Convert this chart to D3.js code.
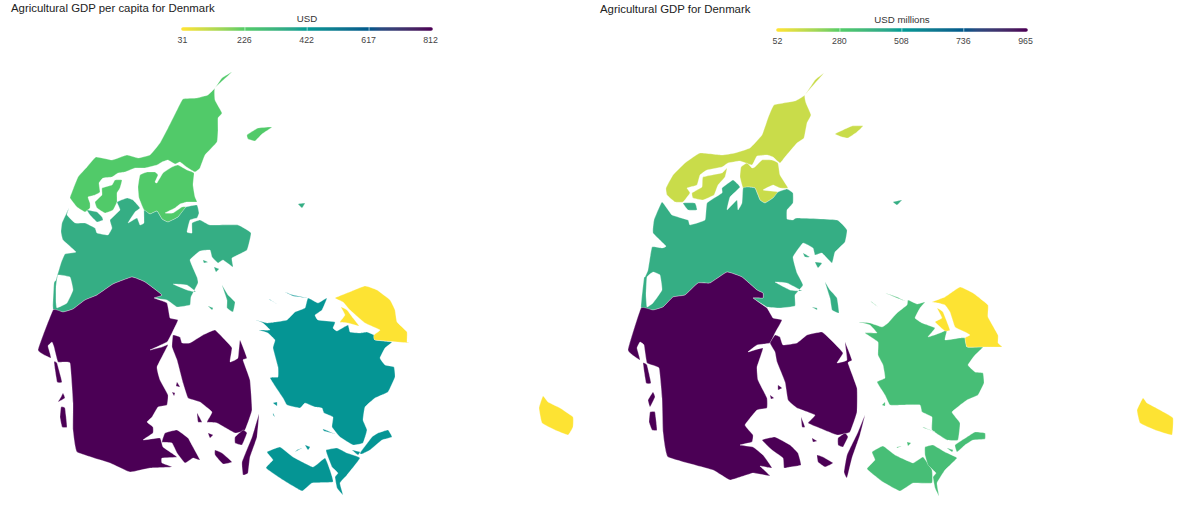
<!DOCTYPE html>
<html>
<head>
<meta charset="utf-8">
<script src="https://cdn.jsdelivr.net/npm/d3@7"></script>
<style>
html,body{margin:0;padding:0;background:#fff;}
svg{display:block;}
text{font-family:"Liberation Sans",Arial,sans-serif;}
</style>
</head>
<body>
<svg id="chart" width="1200" height="509"></svg>
<script>
const regions = ["Nordjylland","Midtjylland","Syddanmark","Sjaelland","Hovedstaden"];
const perCapitaValues = [234, 343, 812, 437, 31];
const totalValues = [134, 417, 965, 345, 52];
const perCapitaTicks = [31, 226, 422, 617, 812];
const totalTicks = [52, 280, 508, 736, 965];
const paletteStops = ["#FDE333", "#53CC67", "#009B95", "#00588B", "#4B0055"];

// Region outlines, in map units, one set per panel (each polygon: outer ring, then any holes).
const outlinesPerCapita = {
 Nordjylland: [
  [[[232,72],[222,78],[215,88],[208,95],[197,98],[183,99],[177,110],[168,128],[160,143],[150,155],[138,158],[127,155],[112,160],[96,157],[87,167],[78,177],[72,192],[70,198],[77,207],[85,212],[90,208],[90,203],[88,197],[95,195],[100,192],[99,183],[103,178],[112,177],[118,173],[125,172],[135,168],[145,168],[157,165],[162,162],[168,160],[175,164],[180,162],[188,168],[195,172],[200,168],[205,155],[217,142],[218,130],[218,118],[222,113],[215,100],[215,88]]],
  [[[102,188],[112,185],[115,180],[122,180],[120,188],[117,193],[117,202],[113,210],[105,213],[97,208],[95,202],[102,195]]],
  [[[140,175],[147,172],[155,172],[158,175],[155,182],[157,183],[163,173],[172,167],[178,165],[187,170],[194,173],[193,185],[195,197],[197,202],[187,202],[180,204],[175,208],[165,213],[173,213],[182,207],[186,207],[178,217],[168,222],[162,219],[157,211],[150,214],[144,210],[139,198],[138,187]]],
  [[[247,135],[258,128],[272,127],[262,134],[255,141],[248,139]]]
 ],
 Midtjylland: [
  [[[69,208],[62,223],[61,232],[63,240],[76,252],[65,254],[61,263],[56,280],[54,283],[53,309],[63,312],[73,309],[85,300],[97,295],[113,284],[132,277],[145,282],[162,295],[154,298],[167,300],[177,307],[190,305],[191,297],[198,283],[197,277],[190,260],[200,251],[210,250],[212,257],[218,263],[223,260],[233,267],[232,258],[247,250],[251,233],[238,225],[210,225],[200,220],[192,223],[192,233],[187,232],[190,220],[197,218],[199,213],[197,205],[186,207],[178,217],[168,222],[162,219],[157,211],[150,214],[144,210],[144,223],[140,225],[137,218],[128,223],[135,212],[140,208],[133,200],[127,198],[117,202],[120,210],[110,220],[112,228],[108,235],[97,233],[95,228],[85,223],[75,223],[67,215]],
   [[58,275],[70,277],[73,290],[67,303],[57,308],[56,302],[56,287]],
   [[173,284],[187,285],[196,292],[187,290]]],
  [[[87,210],[97,212],[102,217],[103,220],[97,222],[90,215]]],
  [[[222,285],[228,295],[235,302],[233,312],[227,308],[227,300]]],
  [[[208,306],[213,308],[212,310]]],
  [[[203,260],[208,262],[204,263]]],
  [[[214,267],[219,269],[216,272]]],
  [[[298,204],[305,203],[302,208]]]
 ],
 Syddanmark: [
  [[[38,350],[53,310],[63,312],[73,309],[85,300],[97,295],[113,284],[132,277],[145,282],[162,295],[154,298],[167,303],[170,318],[178,320],[172,333],[167,342],[150,350],[162,347],[168,345],[157,367],[160,380],[168,395],[167,405],[158,407],[152,417],[147,422],[153,427],[153,433],[143,440],[160,438],[163,447],[177,457],[162,458],[162,463],[172,467],[150,468],[130,472],[110,463],[77,452],[73,430],[73,403],[70,363],[58,362],[54,347],[52,342],[48,346],[51,358]]],
  [[[165,433],[177,430],[188,438],[193,447],[200,460],[193,458],[185,463],[177,453],[172,443],[162,442]]],
  [[[173,335],[180,337],[182,343],[190,343],[203,335],[215,330],[227,342],[232,348],[230,362],[238,358],[240,340],[247,358],[243,360],[250,380],[252,410],[245,430],[235,433],[217,423],[207,422],[212,412],[200,402],[188,398],[183,383],[177,360],[172,347]]],
  [[[235,437],[243,430],[247,433],[242,445],[235,443]]],
  [[[215,450],[222,453],[232,462],[223,464],[215,455]]],
  [[[259,414],[257,437],[250,457],[248,473],[243,475],[242,462],[252,437]]],
  [[[54,362],[57,363],[62,382],[57,382]]],
  [[[63,393],[65,398],[58,402],[61,397]]],
  [[[61,407],[65,408],[67,427],[62,427],[60,417]]],
  [[[197,413],[202,422],[198,422]]],
  [[[172,392],[175,393],[174,396]]],
  [[[177,382],[180,387],[176,386]]],
  [[[208,433],[213,435],[210,438]]]
 ],
 Sjaelland: [
  [[[256,320],[267,323],[275,322],[287,320],[295,312],[305,308],[308,298],[318,303],[327,298],[322,310],[315,315],[318,320],[335,322],[333,328],[337,331],[348,325],[350,332],[360,333],[367,332],[374,335],[375,340],[392,342],[385,348],[380,358],[385,365],[394,367],[395,377],[388,392],[375,398],[365,407],[363,420],[367,430],[363,443],[353,445],[340,437],[332,427],[333,417],[324,413],[322,408],[315,407],[305,403],[300,408],[287,405],[283,398],[270,378],[278,377],[278,367],[273,348],[275,340],[268,333],[259,330],[270,330],[263,323]]],
  [[[267,452],[280,447],[293,457],[313,467],[325,458],[330,470],[333,482],[312,483],[302,491],[283,480],[266,468],[273,460]]],
  [[[326,450],[337,448],[347,453],[360,458],[347,475],[340,483],[343,495],[337,488],[335,477],[338,473],[332,467],[328,457]]],
  [[[360,453],[372,437],[378,433],[388,430],[392,437],[382,440],[370,450],[362,454]]],
  [[[352,450],[360,452],[358,455]]],
  [[[297,450],[302,448],[295,452]]],
  [[[305,445],[310,447],[308,450]]],
  [[[285,292],[293,295],[307,298],[293,296]]],
  [[[269,299],[277,304],[270,300]]],
  [[[323,429],[335,434],[324,431]]],
  [[[273,403],[277,402],[277,406]]],
  [[[273,413],[275,417],[273,415]]]
 ],
 Hovedstaden: [
  [[[335,298],[347,293],[365,286],[377,290],[390,300],[395,310],[397,322],[407,332],[407,342],[409,343],[375,340],[374,335],[380,330],[365,323],[350,310],[343,302]]],
  [[[341,307],[347,310],[353,318],[359,326],[348,323],[340,322],[345,315]]],
  [[[543,396],[548,402],[560,408],[573,417],[573,427],[568,435],[555,430],[542,423],[539,408]]]
 ]
};
const outlinesTotal = {
 Nordjylland: [
  [[[824,73],[815,80],[805,95],[795,101],[774,105],[768,118],[762,135],[750,148],[735,153],[722,155],[700,153],[685,163],[673,175],[666,188],[667,195],[675,202],[683,202],[690,193],[687,188],[697,185],[700,175],[707,170],[722,167],[728,163],[740,161],[752,165],[757,156],[767,155],[773,157],[780,163],[785,157],[797,143],[804,138],[807,123],[811,115],[806,103],[805,95]]],
  [[[703,177],[722,173],[727,168],[725,177],[718,185],[714,195],[703,200],[693,198],[692,193],[702,187]]],
  [[[741,167],[747,163],[752,168],[755,167],[762,160],[772,160],[778,163],[780,175],[788,188],[780,188],[773,185],[763,190],[778,192],[773,198],[765,203],[760,200],[755,188],[748,187],[743,188],[740,177]]],
  [[[835,134],[845,129],[852,126],[863,126],[857,132],[848,138],[842,137]]]
 ],
 Midtjylland: [
  [[[662,202],[654,220],[653,233],[666,246],[662,248],[652,247],[648,270],[645,277],[644,278],[641,308],[653,310],[663,307],[673,297],[685,295],[698,283],[710,283],[727,272],[742,277],[757,290],[763,293],[763,298],[753,298],[767,307],[780,308],[795,306],[795,295],[803,285],[797,273],[793,257],[803,243],[813,248],[815,255],[822,253],[832,263],[835,252],[845,242],[847,230],[837,220],[797,218],[793,220],[787,219],[787,210],[793,203],[793,193],[787,189],[778,192],[773,198],[765,203],[760,200],[755,188],[748,187],[743,188],[742,203],[738,210],[737,200],[727,210],[730,197],[740,187],[733,180],[722,188],[722,193],[707,203],[705,220],[690,225],[688,220],[672,215]],
   [[647,277],[653,272],[660,275],[662,290],[653,303],[647,307],[646,295]],
   [[775,282],[787,283],[802,291],[790,290]]],
  [[[683,203],[695,203],[697,210],[688,210]]],
  [[[825,282],[830,290],[837,298],[839,313],[832,310],[830,298]]],
  [[[812,307],[817,308],[817,310]]],
  [[[803,253],[810,257],[805,257]]],
  [[[815,262],[822,263],[818,268]]],
  [[[893,202],[902,200],[897,205]]]
 ],
 Syddanmark: [
  [[[628,350],[641,308],[653,310],[663,307],[673,297],[685,295],[698,283],[710,283],[727,272],[742,277],[757,290],[763,293],[763,298],[753,298],[767,308],[773,318],[782,320],[775,333],[770,343],[757,345],[748,352],[763,348],[757,367],[758,380],[767,398],[767,408],[757,410],[745,425],[753,435],[752,442],[740,445],[753,447],[763,455],[772,468],[760,466],[770,476],[753,473],[730,480],[713,470],[668,457],[663,432],[662,398],[659,368],[647,363],[644,345],[640,342],[637,348],[640,360]]],
  [[[762,440],[775,437],[790,445],[798,453],[801,465],[790,467],[784,468],[783,458],[772,450]]],
  [[[775,335],[780,337],[783,345],[797,343],[807,335],[822,332],[833,342],[843,353],[837,363],[847,360],[845,342],[852,360],[848,363],[857,388],[857,412],[850,432],[837,435],[817,427],[808,423],[815,415],[797,408],[788,400],[785,382],[777,362],[775,352],[770,343]]],
  [[[838,438],[845,433],[848,437],[843,447],[838,445]]],
  [[[817,455],[823,457],[833,463],[825,467],[818,462]]],
  [[[865,415],[860,435],[852,458],[847,478],[844,472],[847,455],[858,432]]],
  [[[643,363],[647,365],[651,383],[646,383]]],
  [[[648,400],[653,392],[655,397],[650,407]]],
  [[[650,412],[655,412],[657,430],[652,430],[649,422]]],
  [[[801,417],[805,427],[802,427]]],
  [[[770,395],[774,398],[771,399]]],
  [[[778,385],[782,388],[778,390]]],
  [[[812,438],[817,441],[813,442]]]
 ],
 Sjaelland: [
  [[[859,322],[870,323],[882,327],[888,323],[897,313],[907,305],[908,300],[917,304],[925,302],[920,308],[915,318],[922,323],[935,328],[928,337],[940,333],[947,330],[945,340],[960,338],[965,338],[967,347],[983,347],[975,355],[968,365],[975,372],[983,373],[984,383],[978,395],[967,400],[952,412],[960,423],[958,440],[947,440],[932,430],[932,417],[922,412],[920,405],[903,405],[890,405],[885,395],[877,382],[885,378],[883,365],[878,355],[878,342],[865,333],[877,333],[870,325]]],
  [[[872,452],[883,446],[895,455],[913,463],[923,457],[932,470],[932,483],[913,483],[900,491],[883,482],[867,469],[875,460]]],
  [[[925,447],[933,445],[945,452],[957,458],[945,470],[937,483],[939,496],[935,488],[933,477],[936,473],[928,465],[925,455]]],
  [[[955,445],[967,437],[975,432],[985,433],[985,439],[973,440],[965,445],[957,452]]],
  [[[897,447],[902,446],[897,448]]],
  [[[907,442],[911,443],[908,446]]],
  [[[947,448],[953,450],[952,452]]],
  [[[885,293],[897,297],[905,301],[897,298]]],
  [[[870,301],[878,307],[872,302]]],
  [[[923,427],[935,432],[924,428]]],
  [[[882,405],[885,402],[885,406]]]
 ],
 Hovedstaden: [
  [[[932,302],[945,297],[960,287],[973,293],[988,305],[988,317],[998,335],[998,343],[1002,347],[983,347],[967,347],[965,338],[970,335],[965,332],[955,327],[950,312],[945,305],[938,303]]],
  [[[937,308],[943,312],[950,330],[945,331],[935,322],[942,318]]],
  [[[1143,398],[1147,403],[1160,410],[1173,418],[1172,435],[1155,430],[1140,423],[1137,410]]]
 ]
};

const panels = [
 {title:"Agricultural GDP per capita for Denmark", titleX:11, titleY:12, unit:"USD", values:perCapitaValues, ticks:perCapitaTicks, outlines:outlinesPerCapita, barX:[183,431], barY:29},
 {title:"Agricultural GDP for Denmark", titleX:600, titleY:13, unit:"USD millions", values:totalValues, ticks:totalTicks, outlines:outlinesTotal, barX:[778,1026], barY:30}
];

const svg = d3.select("#chart");
const defs = svg.append("defs");
const ramp = d3.piecewise(d3.interpolateLab, paletteStops);
const ringPath = d3.line().curve(d3.curveCardinalClosed.tension(0.7));

panels.forEach((p, pi) => {
  const lo = d3.min(p.ticks), hi = d3.max(p.ticks);
  const colour = d3.scaleSequential(ramp).domain([lo, hi]);
  const g = svg.append("g");

  // map: one path per polygon so that overlapping neighbours do not cancel out
  const features = regions.flatMap((r, i) =>
    p.outlines[r].map(poly => ({region:r, value:p.values[i], rings:poly})));
  g.append("g").selectAll("path").data(features).join("path")
    .attr("d", d => d.rings.map(ringPath).join(""))
    .attr("fill", d => colour(d.value))
    .attr("fill-rule", "evenodd")
    .attr("stroke", "#fff")
    .attr("stroke-width", 0.3)
    .attr("stroke-linejoin", "round");

  // title
  svg.append("text").attr("x", p.titleX).attr("y", p.titleY)
    .attr("font-size", 11.4).attr("fill", "#222").text(p.title);

  // legend
  const x = d3.scaleLinear().domain([lo, hi]).range(p.barX);
  const gradId = "grad" + pi;
  const grad = defs.append("linearGradient").attr("id", gradId)
    .attr("gradientUnits", "userSpaceOnUse")
    .attr("x1", p.barX[0]).attr("x2", p.barX[1]).attr("y1", 0).attr("y2", 0);
  d3.range(0, 1.0001, 0.05).forEach(t => {
    grad.append("stop").attr("offset", t).attr("stop-color", colour(lo + t * (hi - lo)));
  });
  const leg = svg.append("g");
  leg.append("line")
    .attr("x1", p.barX[0]).attr("x2", p.barX[1])
    .attr("y1", p.barY).attr("y2", p.barY + 0.001)
    .attr("stroke", `url(#${gradId})`).attr("stroke-width", 3.6).attr("stroke-linecap", "round");
  leg.selectAll("line.tick").data(p.ticks.slice(1, -1)).join("line").attr("class", "tick")
    .attr("x1", d => x(d)).attr("x2", d => x(d))
    .attr("y1", p.barY - 1.8).attr("y2", p.barY + 1.8)
    .attr("stroke", "#fff").attr("stroke-width", 0.6);
  leg.selectAll("text.lab").data(p.ticks).join("text").attr("class", "lab")
    .attr("x", d => x(d) - 0.5).attr("y", p.barY + 14)
    .attr("text-anchor", "middle").attr("font-size", 8.8).attr("fill", "#444")
    .text(d => d);
  leg.append("text").attr("x", (p.barX[0] + p.barX[1]) / 2).attr("y", p.barY - 7)
    .attr("text-anchor", "middle").attr("font-size", 9.7).attr("fill", "#333").text(p.unit);
});
</script>
</body>
</html>
